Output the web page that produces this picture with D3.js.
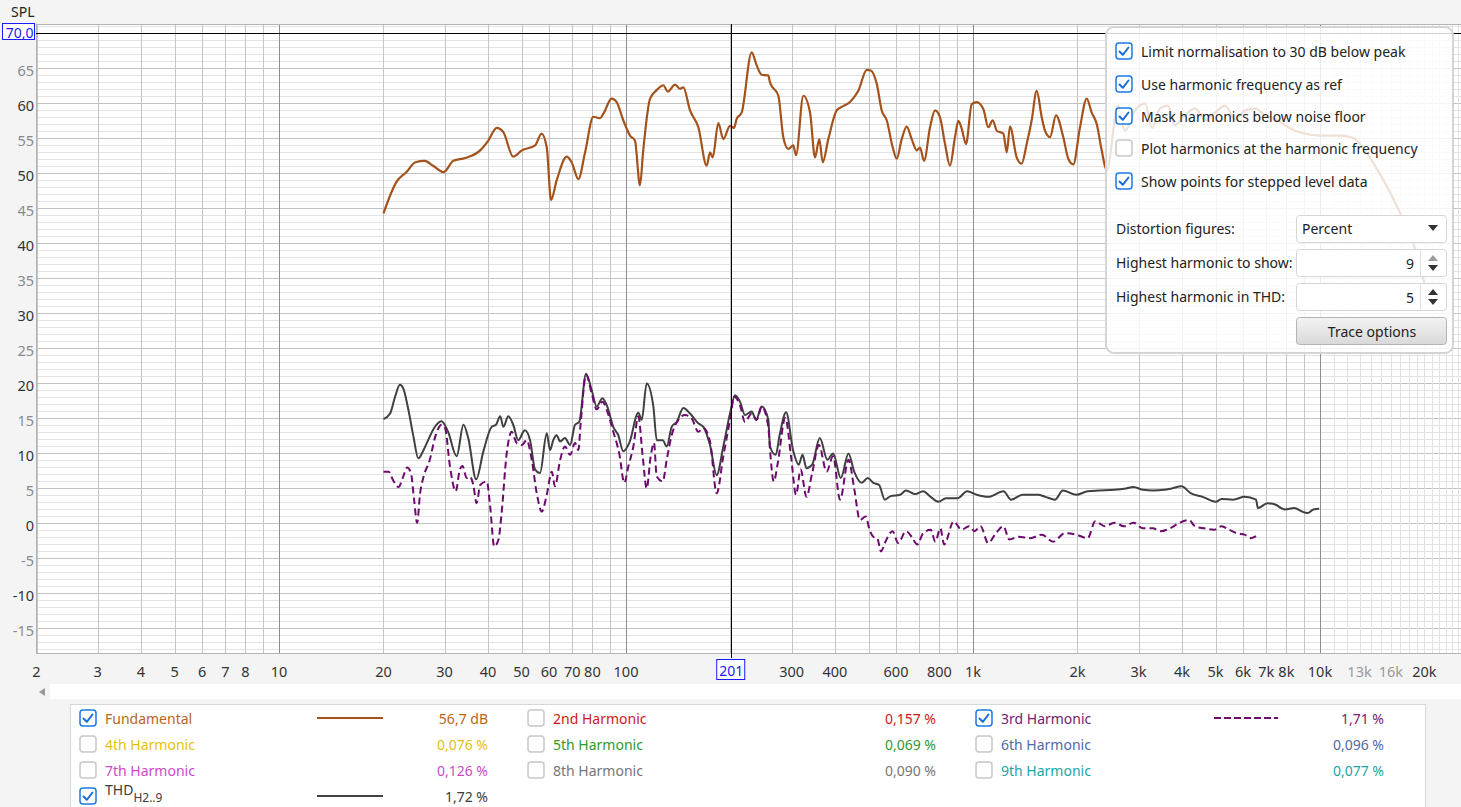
<!DOCTYPE html>
<html>
<head>
  <title>Harmonic distortion</title>
  <script src="https://d3js.org/d3.v7.min.js"></script>
  <style>
    body { margin: 0; background: #f4f4f4; }
    svg { display: block; font-family: "Noto Sans", "DejaVu Sans", sans-serif; }
  </style>
</head>
<body>
<script>
// ---- data (frequency in Hz, level in dB) ----
var fundFreq = [20,21.8,23.3,24.7,26.3,27.8,29.8,31.8,34.4,38.0,40.1,42.4,44.3,47.3,50.1,54.7,57.1,59.1,60.8,63.1,67.5,69.7,72.9,76.2,80.5,84.2,86.0,90.9,94.0,98.2,102.7,106.1,109.7,112.1,117.3,122.6,128.1,131.9,138.5,143,146.3,152.9,161.6,170.8,174.6,177.8,184.5,190.7,199.4,204.8,208.4,215.4,230.2,238.1,246.1,257.1,260,274.8,283.9,293.5,303.4,309,324.3,339.1,350.5,360.6,368.9,382.8,404.7,418.4,442.1,467.2,494,507.3,527.9,545.7,564.1,587,602.8,623.1,644.1,665.8,688.4,703.6,722.6,751.9,777.2,803.4,830.5,858.5,887.4,907,927.7,954.5,991.5,1025,1071,1107,1140,1171,1223,1251,1278,1336,1381,1428,1476,1526,1578,1613,1667,1735,1820,1882,1945,2034,2127,2198,2272,2349,2428,2618,2742,2931,3131,3281,3458,3648,3821,4083,4364,4663,4983,5325,5689,6080,6497,6942,7419,7927,8472,9053,10000,11420,12450,13480,14690,15910,17000,18530,19810,20750];
var fundDb = [44.2,48.7,50.1,51.5,51.7,51.0,50.1,51.7,52.1,53.2,54.6,56.4,55.8,52.3,53.2,53.9,55.6,53.6,46.1,48.9,52.3,51.5,49.1,52.9,58.0,57.8,58.4,60.6,60.1,57.5,55.3,54.6,48.2,53.2,60.6,61.8,62.5,61.6,62.6,62.0,62.2,58.9,56.5,51.0,52.9,52.2,57.1,54.8,56.7,56.4,57.7,58.6,67.2,65.3,64.0,63.9,62.9,61.0,55.1,53.4,53.9,52.5,61.0,58.6,52.2,54.8,51.5,54.8,58.9,59.4,60.1,61.7,64.7,64.6,62.7,58.9,57.5,53.6,52.0,54.8,56.6,54.8,53.2,53.6,51.7,56.5,58.9,57.9,54.1,51.0,55.1,57.4,56.3,54.1,59.8,60.1,59.1,56.5,57.5,56.0,55.6,52.9,56.6,52.2,51.3,54.1,57.5,61.7,57.9,56.0,55.1,58.2,55.1,52.0,51.2,56.5,60.6,58.6,57.0,53.2,50.3,59.6,56.0,58.9,59.9,56.4,59.2,59.6,56.8,58.2,59.2,57.5,58.6,59.6,57.7,58.9,59.2,58.2,57.7,56.8,56.0,55.6,55.3,55.3,55.0,53.2,50.3,47.2,44.3,40.1,34.9,31.8];

var thdFreq = [20,20.9,21.6,22.3,22.8,23.6,24.4,25.2,26.1,26.9,27.8,29.4,30.7,32.5,34.0,35.1,37.0,38.8,41.0,42.2,43.4,44.3,45.8,47.3,48.9,51.1,52.9,54.7,56.5,59.1,60.4,61.7,63.1,64.6,66.7,69.0,71.3,73.3,76.7,79.6,82.3,85.5,88.3,91.9,95.0,98.2,102.2,108.5,111,114.7,119.9,122.6,127.6,131.0,135.4,140.0,146.3,152.9,161.6,167.1,174.6,182.5,190.7,199.4,206.1,213.0,220.2,230.2,237.0,246.1,257.1,260,270,277.1,289.3,302.9,314.6,322.6,331.1,343.9,361.8,380.5,395.2,415.9,437.7,454.5,478,497,516.1,536.3,557,578.8,616.6,640.8,682.3,718.1,755.2,794.7,836,902.2,961.6,1025,1106,1224,1288,1390,1538,1618,1724,1815,1984,2140,2309,2556,2758,2902,3092,3296,3556,3740,3987,4248,4586,5010,5204,5617,6064,6541,6622,7061,7428,7911,8431,8874,9218,9572,9947];
var thdDb = [14.8,15.6,18.0,19.7,19.2,16.1,12.3,9.2,10.4,11.8,13.3,14.5,13.0,9.5,14.0,12.1,6.2,10.2,13.7,14.0,15.2,13.7,15.2,14.0,11.8,13.2,11.8,7.6,7.1,12.8,10.4,11.8,12.5,11.6,12.1,11.1,14.0,14.4,21.3,19.0,16.6,17.8,16.6,13.7,12.5,10.2,11.4,15.7,14.7,19.9,16.6,11.8,11.8,10.9,13.7,14.4,16.4,15.6,14.2,13.7,11.1,6.8,10.9,15.6,18.2,17.3,15.4,15.9,14.7,16.6,14.7,10.9,9.7,12.5,15.8,10.4,8.3,9.7,7.8,8.3,12.1,9.0,9.9,6.4,9.9,7.3,5.7,6.4,5.7,5.4,3.3,3.8,4.0,4.6,4.1,4.5,3.7,3.0,3.5,3.5,4.5,4.0,3.7,4.5,3.3,4.0,4.0,3.7,3.3,4.6,4.0,4.5,4.6,4.7,4.9,5.1,4.7,4.6,4.7,4.9,5.2,4.2,3.7,3.0,3.4,3.3,3.7,3.3,2.1,2.8,2.6,1.9,2.1,1.6,1.4,1.9,2.0];

var h3Freq = [20,20.7,21.3,22.1,22.8,23.4,24.0,24.5,25.0,25.5,26.1,27.2,28.2,29.4,30.1,31.1,32.3,33.2,33.8,34.7,35.5,36.3,37.1,38.0,39.7,40.6,41.7,42.9,43.8,45.3,46.8,48.4,50.1,51.7,53.5,55.3,57.2,59.1,61.1,62.4,64.6,66.7,69.0,71.3,72.9,74.0,76.7,79.6,82.3,85.5,88.3,91.9,95.6,98.9,101.5,105,108.5,111.7,114.7,117.8,120.4,122.6,127.6,131.0,135.4,141.5,147.9,154.6,161.6,167.1,174.6,182.5,190.7,199.4,205.1,213.0,220.2,230.2,238.1,246.1,257.1,260,266.6,273.7,287.8,298.9,309,318.6,331.1,343.9,359.8,378.5,395.2,413.7,437.7,454.5,472.1,490.7,503.2,516.1,529.6,543.2,557,586.1,608.6,640.8,665.5,691.1,718.1,755.2,778.7,805,825.5,880,926,974,1011,1051,1106,1164,1224,1272,1355,1462,1578,1702,1838,1984,2140,2251,2399,2556,2725,2902,3092,3296,3468,3696,3937,4196,4357,4644,4950,5204,5472,5760,6064,6296,6541];
var h3Db = [7.3,7.3,6.1,5.1,6.6,7.9,7.1,3.3,0.0,4.2,6.6,9.0,12.3,14.0,13.5,8.0,4.5,7.6,8.1,6.4,6.6,5.4,2.8,5.4,5.9,2.3,-3.4,-2.4,1.4,9.9,13.0,11.4,11.1,11.8,9.0,4.2,1.6,4.0,7.3,5.2,9.0,10.9,9.7,11.4,10.4,14.2,21.1,18.5,16.2,17.3,15.9,13.0,9.9,5.7,8.0,10.9,15.2,9.5,4.9,9.5,11.4,6.6,5.9,9.0,12.5,14.7,15.4,14.9,13.0,13.5,11.6,4.2,9.5,14.7,18.0,16.8,14.4,15.6,14.7,16.6,13.7,10.4,5.9,8.5,15.0,9.5,4.0,7.6,3.7,7.1,11.1,7.3,9.5,3.3,9.0,4.9,0.4,0.9,-1.0,-2.0,-2.2,-4.1,-2.9,-1.2,-2.9,-1.2,-2.0,-3.1,-1.5,-1.0,-2.7,-0.8,-3.1,0.2,-1.0,-0.5,-1.2,-0.5,-2.9,-1.5,-0.5,-2.4,-2.0,-2.2,-1.7,-2.7,-1.5,-1.7,-2.2,0.2,-0.5,0.0,-0.5,0.0,-0.8,-0.8,-1.2,-0.8,0.0,0.4,-0.5,-0.8,-1.0,-0.5,-1.0,-1.5,-1.7,-2.2,-1.9];

// axis labels
var yLabels = [65,60,55,50,45,40,35,30,25,20,15,10,5,0,-5,-10,-15];
var xLabels = [2,3,4,5,6,7,8,10,20,30,40,50,60,70,80,100,300,400,600,800,1000,2000,3000,4000,5000,6000,7000,8000,10000,13000,16000,20000];
var xLabelsFaint = [13000,16000];
var cursorFreq = 201, cursorLevel = 70.0;

// legend
var legendNames = ["Fundamental","2nd Harmonic","3rd Harmonic","4th Harmonic","5th Harmonic","6th Harmonic","7th Harmonic","8th Harmonic","9th Harmonic","THD"];
var legendValues = ["56,7 dB","0,157 %","1,71 %","0,076 %","0,069 %","0,096 %","0,126 %","0,090 %","0,077 %","1,72 %"];
var legendChecked = [true,false,true,false,false,false,false,false,false,true];
var legendColors = ["#b8661c","#d01818","#762070","#e6bf10","#2f9a2f","#4f69a8","#cc4acc","#767676","#1aa6a6","#3c3c3c"];

// options panel
var panelOptions = ["Limit normalisation to 30 dB below peak","Use harmonic frequency as ref","Mask harmonics below noise floor","Plot harmonics at the harmonic frequency","Show points for stepped level data"];
var panelChecked = [true,true,true,false,true];

var W = 1461, H = 807;
var plot = { left: 36, top: 24, right: 1461, bottom: 654 };

var svg = d3.select("body").append("svg").attr("width", W).attr("height", H);
svg.append("rect").attr("width", W).attr("height", H).attr("fill", "#f4f4f4");

var x = d3.scaleLog().domain([2, 25490]).range([36.5, 1461]);
var y = d3.scaleLinear().domain([-18.75, 71.25]).range([plot.bottom, plot.top]);

svg.append("rect")
  .attr("x", plot.left).attr("y", plot.top)
  .attr("width", plot.right - plot.left).attr("height", plot.bottom - plot.top)
  .attr("fill", "#fff");

var grid = svg.append("g");

// horizontal grid, 1 dB steps
var yGrid = d3.range(-18, 72);
grid.selectAll(".hg").data(yGrid).enter().append("line")
  .attr("x1", plot.left).attr("x2", plot.right)
  .attr("y1", d => Math.round(y(d)) + 0.5).attr("y2", d => Math.round(y(d)) + 0.5)
  .attr("stroke", d => d % 5 === 0 ? "#c2c2c2" : "#e3e3e3");

// vertical grid: 1..9 per decade, 1k steps above 10k
var xGrid = [];
[1, 10, 100, 1000].forEach(function(dec) {
  for (var m = 1; m <= 9; m++) if (dec * m >= 2) xGrid.push(dec * m);
});
for (var k = 10000; k <= 25000; k += 1000) xGrid.push(k);
grid.selectAll(".vg").data(xGrid).enter().append("line")
  .attr("x1", d => Math.round(x(d)) + 0.5).attr("x2", d => Math.round(x(d)) + 0.5)
  .attr("y1", plot.top).attr("y2", plot.bottom)
  .attr("stroke", function(d) {
    if (d === 10 || d === 100 || d === 1000 || d === 10000) return "#8e8e8e";
    if (d > 10000) return "#e2e2e2";
    return "#c4c4c4";
  });

svg.append("rect")
  .attr("x", plot.left + 0.5).attr("y", plot.top + 0.5)
  .attr("width", plot.right - plot.left).attr("height", plot.bottom - plot.top - 1)
  .attr("fill", "none").attr("stroke", "#b4b4b4");

// curves
svg.append("clipPath").attr("id", "clip").append("rect")
  .attr("x", plot.left).attr("y", plot.top)
  .attr("width", plot.right - plot.left).attr("height", plot.bottom - plot.top);

var line = d3.line().x(d => x(d[0])).y(d => y(d[1])).curve(d3.curveMonotoneX);
var curves = svg.append("g").attr("clip-path", "url(#clip)");

curves.append("path").datum(d3.zip(fundFreq, fundDb))
  .attr("d", line).attr("fill", "none").attr("stroke", "#a4521c").attr("stroke-width", 2.2);
curves.append("path").datum(d3.zip(thdFreq, thdDb))
  .attr("d", line).attr("fill", "none").attr("stroke", "#404040").attr("stroke-width", 2);
curves.append("path").datum(d3.zip(h3Freq, h3Db))
  .attr("d", line).attr("fill", "none").attr("stroke", "#6c0a6e").attr("stroke-width", 2)
  .attr("stroke-dasharray", "7,4");

// cursors
svg.append("line").attr("x1", plot.left).attr("x2", plot.right)
  .attr("y1", Math.round(y(cursorLevel)) + 0.5).attr("y2", Math.round(y(cursorLevel)) + 0.5)
  .attr("stroke", "#000");
svg.append("line").attr("x1", Math.round(x(cursorFreq)) + 0.5).attr("x2", Math.round(x(cursorFreq)) + 0.5)
  .attr("y1", plot.top).attr("y2", plot.bottom + 4).attr("stroke", "#000");

// y labels
svg.append("text").attr("x", 11).attr("y", 17).attr("font-size", 14).attr("fill", "#222").text("SPL");
svg.selectAll(".yl").data(yLabels).enter().append("text")
  .attr("x", 34).attr("y", d => y(d) + 2)
  .attr("text-anchor", "end").attr("dominant-baseline", "central")
  .attr("font-size", 14.5)
  .attr("fill", d => d % 10 === 0 ? "#333" : "#8a8a8a")
  .text(d => d);
svg.append("rect").attr("x", 2.5).attr("y", 23.5).attr("width", 32).attr("height", 16)
  .attr("fill", "#fff").attr("stroke", "#1a1aff");
svg.append("text").attr("x", 33.5).attr("y", y(cursorLevel))
  .attr("text-anchor", "end").attr("dominant-baseline", "central")
  .attr("font-size", 14).attr("fill", "#1a1aff").text(cursorLevel.toFixed(1).replace(".", ","));

// x labels
function fmtF(d) { return d >= 1000 ? (d / 1000) + "k" : String(d); }
svg.selectAll(".xl").data(xLabels).enter().append("text")
  .attr("x", d => x(d)).attr("y", 671)
  .attr("text-anchor", "middle").attr("dominant-baseline", "central")
  .attr("font-size", 14.5)
  .attr("fill", d => xLabelsFaint.indexOf(d) >= 0 ? "#9a9a9a" : "#333")
  .text(fmtF);
svg.append("rect").attr("x", x(cursorFreq) - 14.5).attr("y", 659.5).attr("width", 28).attr("height", 20)
  .attr("fill", "#fff").attr("stroke", "#1a1aff");
svg.append("text").attr("x", x(cursorFreq)).attr("y", 670)
  .attr("text-anchor", "middle").attr("dominant-baseline", "central")
  .attr("font-size", 14).attr("fill", "#1a1aff").text(cursorFreq);

// scrollbar strip
svg.append("rect").attr("x", 50).attr("y", 684).attr("width", W - 50).attr("height", 15).attr("fill", "#fff");
svg.append("path").attr("d", "M39,692 L45,688 L45,696 Z").attr("fill", "#9a9a9a");

// checkbox helper
function checkbox(g, cx, cy, on) {
  g.append("rect").attr("x", cx - 8).attr("y", cy - 8).attr("width", 16).attr("height", 16).attr("rx", 3)
    .attr("fill", "#fff").attr("stroke", on ? "#1a7be6" : "#c9c9c9").attr("stroke-width", 1.5);
  if (on) {
    g.append("path")
      .attr("d", "M" + (cx - 4.5) + "," + (cy + 0.5) + " L" + (cx - 1.2) + "," + (cy + 3.8) + " L" + (cx + 4.5) + "," + (cy - 3.5))
      .attr("fill", "none").attr("stroke", "#1a6fd6").attr("stroke-width", 2)
      .attr("stroke-linecap", "round").attr("stroke-linejoin", "round");
  }
}

// legend
var lg = svg.append("g");
lg.append("rect").attr("x", 70.5).attr("y", 704.5).attr("width", 1355).attr("height", 110)
  .attr("fill", "#fff").attr("stroke", "#d8d8d8");
var colX = [88, 536, 984];
var valX = [488, 936, 1384];
var rowY = [718, 744, 770, 796];
legendNames.forEach(function(name, i) {
  var col = i % 3, row = Math.floor(i / 3);
  var cx = colX[col], cy = rowY[row];
  checkbox(lg, cx, cy, legendChecked[i]);
  if (name === "THD") {
    var t = lg.append("text").attr("x", cx + 17).attr("y", cy - 1).attr("font-size", 14)
      .attr("fill", legendColors[i]);
    t.append("tspan").text("THD");
    t.append("tspan").attr("dy", 7).attr("font-size", 12).text("H2..9");
  } else {
    lg.append("text").attr("x", cx + 17).attr("y", cy).attr("dominant-baseline", "central")
      .attr("font-size", 14).attr("fill", legendColors[i]).text(name);
  }
  lg.append("text").attr("x", valX[col]).attr("y", cy).attr("dominant-baseline", "central")
    .attr("text-anchor", "end").attr("font-size", 14).attr("fill", legendColors[i]).text(legendValues[i]);
});
// legend line samples
lg.append("line").attr("x1", 317).attr("x2", 383).attr("y1", 718).attr("y2", 718)
  .attr("stroke", "#a4521c").attr("stroke-width", 2);
lg.append("line").attr("x1", 317).attr("x2", 383).attr("y1", 796).attr("y2", 796)
  .attr("stroke", "#404040").attr("stroke-width", 2);
lg.append("line").attr("x1", 1214).attr("x2", 1278).attr("y1", 718).attr("y2", 718)
  .attr("stroke", "#6c0a6e").attr("stroke-width", 2).attr("stroke-dasharray", "7,3");

// options panel
var pg = svg.append("g");
pg.append("rect").attr("x", 1106).attr("y", 27).attr("width", 347).attr("height", 326).attr("rx", 8)
  .attr("fill", "#fff").attr("fill-opacity", 0.82).attr("stroke", "#d4d4d4").attr("stroke-width", 2);
var optY = [51, 84, 116, 148, 181];
panelOptions.forEach(function(txt, i) {
  checkbox(pg, 1124, optY[i], panelChecked[i]);
  pg.append("text").attr("x", 1141).attr("y", optY[i]).attr("dominant-baseline", "central")
    .attr("font-size", 14).attr("fill", "#222").text(txt);
});
function field(yTop, label) {
  pg.append("text").attr("x", 1116).attr("y", yTop + 13.5).attr("dominant-baseline", "central")
    .attr("font-size", 14).attr("fill", "#222").text(label);
  pg.append("rect").attr("x", 1296.5).attr("y", yTop + 0.5).attr("width", 150).attr("height", 27).attr("rx", 3)
    .attr("fill", "#fff").attr("stroke", "#d6d6d6");
}
field(215, "Distortion figures:");
pg.append("text").attr("x", 1302).attr("y", 228.5).attr("dominant-baseline", "central")
  .attr("font-size", 14).attr("fill", "#222").text("Percent");
pg.append("path").attr("d", "M1428,225 L1438,225 L1433,231 Z").attr("fill", "#333");

field(249, "Highest harmonic to show:");
field(283, "Highest harmonic in THD:");
[[249, "9", "#9c9c9c"], [283, "5", "#333"]].forEach(function(r) {
  pg.append("line").attr("x1", 1420.5).attr("x2", 1420.5).attr("y1", r[0] + 1).attr("y2", r[0] + 27).attr("stroke", "#e0e0e0");
  pg.append("text").attr("x", 1414).attr("y", r[0] + 14).attr("dominant-baseline", "central")
    .attr("text-anchor", "end").attr("font-size", 14).attr("fill", "#222").text(r[1]);
  pg.append("path").attr("d", "M1428," + (r[0] + 12) + " L1438," + (r[0] + 12) + " L1433," + (r[0] + 6) + " Z").attr("fill", r[2]);
  pg.append("path").attr("d", "M1428," + (r[0] + 16) + " L1438," + (r[0] + 16) + " L1433," + (r[0] + 22) + " Z").attr("fill", "#333");
});

var grad = svg.append("defs").append("linearGradient").attr("id", "btn").attr("x1", 0).attr("x2", 0).attr("y1", 0).attr("y2", 1);
grad.append("stop").attr("offset", "0%").attr("stop-color", "#f3f3f3");
grad.append("stop").attr("offset", "100%").attr("stop-color", "#d9d9d9");
pg.append("rect").attr("x", 1296.5).attr("y", 317.5).attr("width", 150).attr("height", 27).attr("rx", 3)
  .attr("fill", "url(#btn)").attr("stroke", "#b4b4b4");
pg.append("text").attr("x", 1372).attr("y", 331).attr("dominant-baseline", "central")
  .attr("text-anchor", "middle").attr("font-size", 14).attr("fill", "#222").text("Trace options");
</script>
</body>
</html>
